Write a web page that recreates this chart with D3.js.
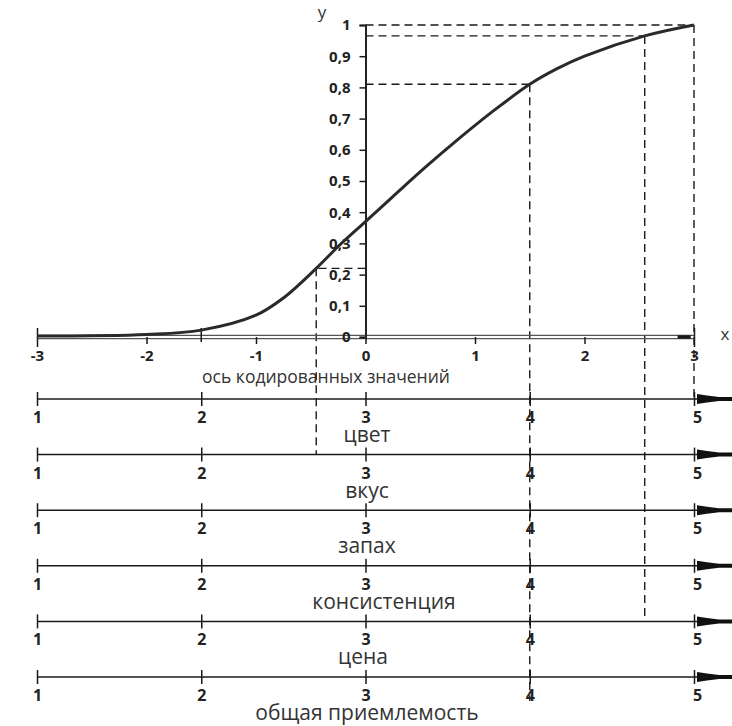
<!DOCTYPE html>
<html><head><meta charset="utf-8">
<script src="https://cdn.jsdelivr.net/npm/d3@7"></script>
<style>body{margin:0;background:#fff}svg{display:block}</style>
</head><body><svg id="c" width="732" height="726"></svg>
<script>
// ---- data ----
const curveX = [-3, -2, -1.5, -1, -0.75, -0.45, -0.25, 0, 0.25, 0.55, 0.85, 1.15, 1.5, 1.75, 2, 2.55, 3];
const curveY = [0.003, 0.008, 0.022, 0.07, 0.125, 0.22, 0.29, 0.37, 0.45, 0.545, 0.635, 0.72, 0.81, 0.86, 0.9, 0.965, 1.0];
const yTicks = [0, 0.1, 0.2, 0.3, 0.4, 0.5, 0.6, 0.7, 0.8, 0.9, 1];
const yTickLabels = ["0", "0,1", "0,2", "0,3", "0,4", "0,5", "0,6", "0,7", "0,8", "0,9", "1"];
const xTicks = [-3, -2, -1, 0, 1, 2, 3];
const xTickLabels = ["-3", "-2", "-1", "0", "1", "2", "3"];
const scaleNames = ["цвет", "вкус", "запах", "консистенция", "цена", "общая приемлемость"];
const scaleTicks = [1, 2, 3, 4, 5];
const guideX = [-0.45, 1.5, 2.55, 3];
const guideY = [0.22, 0.81, 0.965, 1.0];
const guideEndAxis = [1, 6, 4, 0]; // index of the rating axis where each vertical guide stops (6 = below last)
const axisTitle = "ось кодированных значений";

// ---- layout ----
const svg = d3.select("#c");
const font = "'Open Sans', sans-serif";
const x = d3.scaleLinear().domain([-3, 3]).range([37, 694]);
const y = d3.scaleLinear().domain([0, 1]).range([337, 25]);
const r = d3.scaleLinear().domain([1, 5]).range([37, 694]);
const axY = d3.scaleLinear().domain([0, 5]).range([399, 677]);
const ink = "#1a1a1a";

// dashed guides
const g = svg.append("g").attr("stroke", ink).attr("stroke-width", 1.4).attr("stroke-dasharray", "8,5").attr("fill", "none");
guideX.forEach((gx, i) => {
  const yEnd = guideEndAxis[i] > 5 ? axY(5) + 24 : axY(guideEndAxis[i]);
  g.append("line").attr("x1", x(gx)).attr("x2", x(gx)).attr("y1", y(guideY[i])).attr("y2", yEnd);
  g.append("line").attr("x1", x(0)).attr("x2", x(gx)).attr("y1", y(guideY[i])).attr("y2", y(guideY[i]));
});

// main x axis (double line)
[-1.6, 1.6].forEach(d => {
  svg.append("line").attr("x1", x(-3)).attr("x2", x(3)).attr("y1", y(0) + d).attr("y2", y(0) + d)
    .attr("stroke", "#555").attr("stroke-width", 1.2);
});
svg.append("line").attr("x1", x(2.85)).attr("x2", x(2.97)).attr("y1", y(0)).attr("y2", y(0))
  .attr("stroke", ink).attr("stroke-width", 3.5);

const xAxis = svg.append("g").attr("transform", `translate(0,${y(0)})`)
  .call(d3.axisBottom(x).tickValues(xTicks).tickSize(7).tickFormat((d, i) => xTickLabels[i]));
xAxis.select(".domain").remove();
xAxis.selectAll(".tick line").attr("stroke", ink).attr("stroke-width", 1.5);
xAxis.selectAll(".tick line").filter(d => d === -3 || d === 3).attr("y1", -9).attr("y2", 10);
xAxis.selectAll("text").attr("font-family", font).attr("font-weight", "bold").attr("font-size", 15)
  .attr("fill", "#222").attr("y", 10).attr("dy", "0.95em");
svg.append("line").attr("x1", x(-1.5)).attr("x2", x(-1.5)).attr("y1", y(0) - 9).attr("y2", y(0) + 5)
  .attr("stroke", ink).attr("stroke-width", 1.5);

svg.append("text").attr("x", 725).attr("y", 340).attr("text-anchor", "middle")
  .attr("font-family", font).attr("font-size", 17).attr("fill", "#333").text("x");

// y axis
const yAxis = svg.append("g").attr("transform", `translate(${x(0)},0)`)
  .call(d3.axisLeft(y).tickValues(yTicks).tickSize(6).tickPadding(9).tickFormat((d, i) => yTickLabels[i]));
yAxis.select(".domain").attr("stroke", "#222").attr("stroke-width", 2);
yAxis.selectAll(".tick line").attr("stroke", ink).attr("stroke-width", 1.5);
yAxis.selectAll("text").attr("font-family", font).attr("font-weight", "bold").attr("font-size", 15).attr("fill", "#222");
svg.append("text").attr("x", 322).attr("y", 18).attr("text-anchor", "middle")
  .attr("font-family", font).attr("font-size", 17).attr("fill", "#333").text("y");

// curve
const line = d3.line().x(d => x(d[0])).y(d => y(d[1])).curve(d3.curveCatmullRom.alpha(0.5));
svg.append("path").datum(curveX.map((v, i) => [v, curveY[i]])).attr("d", line)
  .attr("fill", "none").attr("stroke", "#2a2a2a").attr("stroke-width", 3);

// axis title
svg.append("text").attr("x", 326).attr("y", 383).attr("text-anchor", "middle")
  .attr("font-family", font).attr("font-size", 17.5).attr("fill", "#333").text(axisTitle);

// rating axes
const nameDx = {"консистенция": 17, "цена": -4};
scaleNames.forEach((name, i) => {
  const ay = axY(i);
  svg.append("line").attr("x1", r(1)).attr("x2", r(5) + 3).attr("y1", ay).attr("y2", ay)
    .attr("stroke", ink).attr("stroke-width", 1.5);
  const ax = svg.append("g").attr("transform", `translate(0,${ay})`)
    .call(d3.axisBottom(r).tickValues(scaleTicks).tickSize(7).tickFormat(d3.format("d")));
  ax.select(".domain").remove();
  ax.selectAll(".tick line").attr("y1", -7).attr("stroke", ink).attr("stroke-width", 1.5);
  ax.selectAll("text").attr("font-family", font).attr("font-weight", "bold").attr("font-size", 16)
    .attr("fill", "#222").attr("y", 24).attr("dy", null);
  ax.selectAll(".tick text").filter(d => d === 5).attr("dx", 3);
  // right-hand arrow
  const ex = r(5) + 3;
  svg.append("path")
    .attr("d", `M${ex},${ay - 5} L${ex + 10},${ay - 3.5} L${ex + 22},${ay - 2} L732,${ay - 2} L732,${ay + 2} L${ex + 22},${ay + 2} L${ex + 10},${ay + 3.5} L${ex},${ay + 5} Z`)
    .attr("fill", "#111");
  svg.append("text").attr("x", 367 + (nameDx[name] || 0)).attr("y", ay + 43).attr("text-anchor", "middle")
    .attr("font-family", font).attr("font-size", 21).attr("fill", "#333").text(name);
});
</script></body></html>
